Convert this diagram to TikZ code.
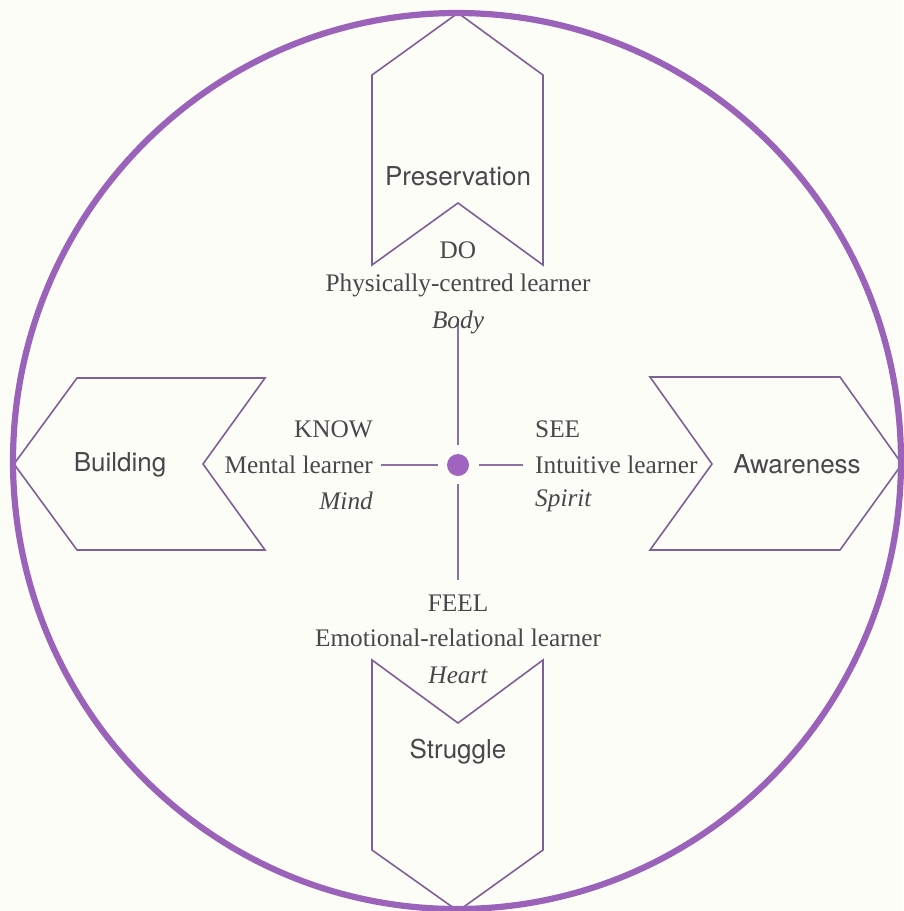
\documentclass[tikz,border=0pt]{standalone}
\usepackage{fontspec}
\setmainfont{Liberation Serif}
\newfontfamily\labsans{TeX Gyre Heros}
\definecolor{ringc}{HTML}{9A62B8}
\definecolor{chevc}{HTML}{7E6096}
\definecolor{txtc}{HTML}{4A474C}
\definecolor{bgc}{HTML}{FDFDF8}
\definecolor{dotc}{HTML}{A064C0}
\begin{document}
\begin{tikzpicture}[x=1pt,y=-1pt,
  chev/.style={draw=chevc,line width=1.6pt,line join=miter},
  biglabel/.style={font=\labsans\fontsize{26}{30}\selectfont,text=txtc,inner sep=0pt},
  small/.style={font=\fontsize{25.3}{28}\selectfont,text=txtc,inner sep=0pt},
  smallit/.style={font=\itshape\fontsize{25.3}{28}\selectfont,text=txtc,inner sep=0pt},
  axis/.style={draw=chevc!90!white,line width=1.6pt}]
\fill[bgc] (0,0) rectangle (903,911);
\useasboundingbox (0,0) rectangle (903,911);
% chevrons
\draw[chev] (372,75)--(458,13)--(543,75)--(543,265)--(458,203)--(372,265)--cycle;
\draw[chev] (372,660)--(458,723)--(543,660)--(543,850)--(458,911)--(372,850)--cycle;
\draw[chev] (77,378)--(265,378)--(203,464)--(265,550)--(77,550)--(14,464)--cycle;
\draw[chev] (650,377)--(840,377)--(902,464)--(840,550)--(650,550)--(712,464)--cycle;
% ring
\draw[ringc,line width=6.2pt] (457,461) ellipse [x radius=444,y radius=448];
% labels
\node[biglabel] (pres) at (458,176) {Preservation};
\node[biglabel] (strug) at (458,752) {Struggle};
\node[biglabel] (build) at (120,465) {Building};
\node[biglabel] (aware) at (797,464) {Awareness};
% centre
\node[circle,fill=dotc,minimum size=22pt,inner sep=0pt] (dot) at (458,465) {};
\coordinate (vt1) at (458,319);
\coordinate (vt2) at (458,445);
\coordinate (vb1) at (458,484);
\coordinate (vb2) at (458,580);
\coordinate (hl1) at (381,465);
\coordinate (hl2) at (438,465);
\coordinate (hr1) at (479,465);
\coordinate (hr2) at (523,465);
\draw[axis] (vt1)--(vt2);
\draw[axis] (vb1)--(vb2);
\draw[axis] (hl1)--(hl2);
\draw[axis] (hr1)--(hr2);
% top text
\node[small] (do) at (458,250) {DO};
\node[small] (phys) at (458,285) {Physically-centred learner};
\node[smallit] (body) at (458,322) {Body};
% bottom text
\node[small] (feel) at (458,603) {FEEL};
\node[small] (emo) at (458,638) {Emotional-relational learner};
\node[smallit] (heart) at (458,675) {Heart};
% left text
\node[small,anchor=east] (know) at (373,429) {KNOW};
\node[small,anchor=east] (ment) at (373,465) {Mental learner};
\node[smallit,anchor=east] (mind) at (373,501) {Mind};
% right text
\node[small,anchor=west] (see) at (535,429) {SEE};
\node[small,anchor=west] (intu) at (535,465) {Intuitive learner};
\node[smallit,anchor=west] (spir) at (535,501) {Spirit};
\end{tikzpicture}
\end{document}
